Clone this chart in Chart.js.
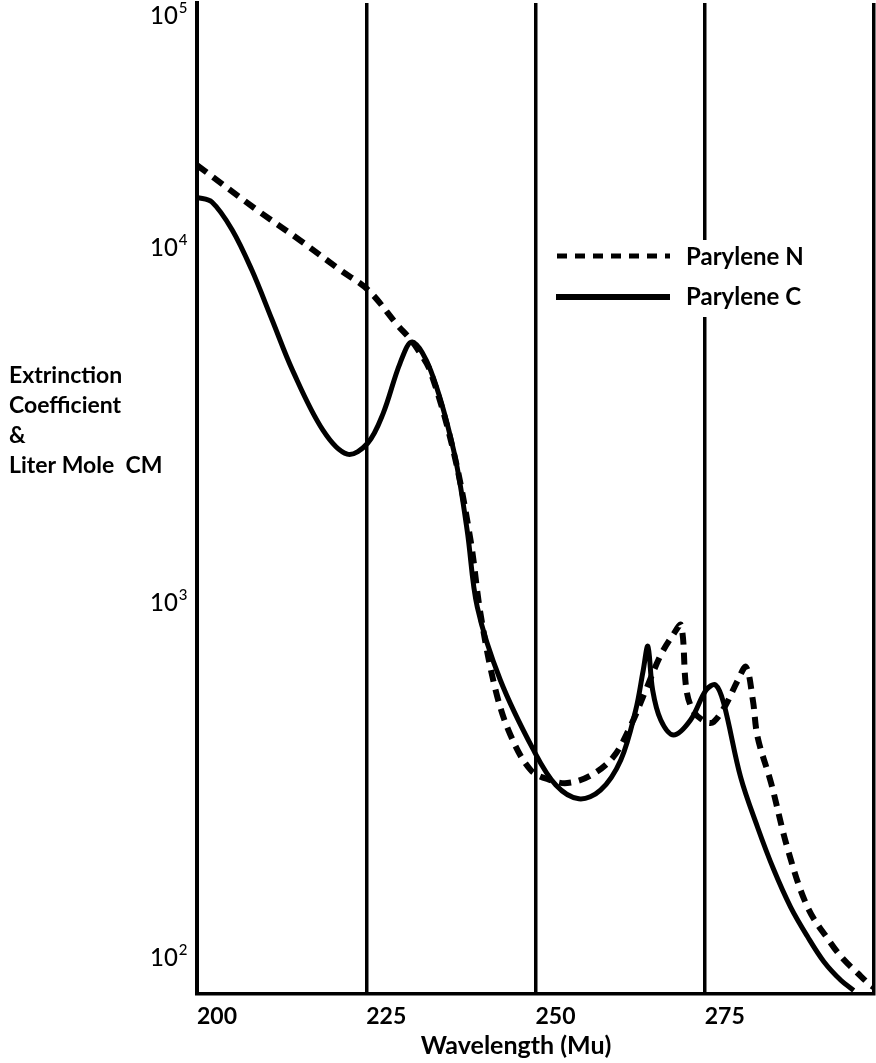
<!DOCTYPE html>
<html>
<head>
<meta charset="utf-8">
<title>Parylene extinction coefficient</title>
<script src="https://cdn.jsdelivr.net/npm/chart.js@4/dist/chart.umd.min.js"></script>
<style>
  html, body { margin: 0; padding: 0; background: #fff; }
  #wrap { width: 876px; height: 1063px; position: relative; }
</style>
</head>
<body>
<div id="wrap"><canvas id="specChart"></canvas></div>
<script>
// wavelength (nm) / extinction values
var nmN  = [200, 208.9, 215.2, 221.2, 225.3, 229.6, 231.5, 232.6, 234.5, 237.9, 240.4, 241.9, 244.1, 246.3, 249.3, 252.2, 254.7, 258.1, 261.5, 264.1, 266.3, 268.5, 270.3, 271.5, 272.3, 273.4, 275.2, 276.3, 278.1, 279.9, 281.1, 282.1, 282.8, 284.8, 287.3, 290.2, 293.6, 295.6, 297.6, 299.1, 300];
var valN = [17000, 12700, 10450, 8600, 7560, 6030, 5500, 5150, 4450, 2650, 1495, 920, 565, 422, 336, 315, 309, 324, 366, 450, 565, 709, 807, 860, 565, 490, 459, 459, 513, 603, 656, 530, 417, 309, 200, 138, 109.5, 98, 90, 84.5, 82];

var nmC  = [200, 202.2, 205.2, 208.1, 211.1, 214.1, 218.6, 222.2, 225.2, 227.5, 230.0, 231.8, 234.5, 237.9, 239.9, 241.4, 244.8, 249.7, 253.0, 256.4, 259.6, 262.6, 264.8, 265.9, 266.6, 267.3, 268.5, 270.4, 272.9, 275.2, 276.6, 277.8, 280.3, 282.8, 285.2, 287.7, 290.2, 292.6, 295.1, 297.0];
var valC = [13800, 13390, 11170, 8610, 6230, 4500, 3050, 2610, 2800, 3400, 4710, 5400, 4500, 2680, 1595, 968, 603, 383, 305, 279, 295, 359, 496, 640, 750, 565, 465, 422, 465, 565, 584, 519, 321, 232, 176, 138, 114, 97, 86, 80.5];

var xTicks = [200, 225, 250, 275, 300];
var yTickVals = [100, 1000, 10000, 45000];
var yTickBase = ['10', '10', '10', '10'];
var yTickExp = ['2', '3', '4', '5'];

var seriesNames = ['Parylene N', 'Parylene C'];
var yTitleLines = ['Extrinction', 'Coefficient', '&', 'Liter Mole  CM'];
var xTitle = 'Wavelength (Mu)';

function toPoints(xs, ys) {
  var pts = [];
  for (var i = 0; i < xs.length; i++) pts.push({ x: xs[i], y: ys[i] });
  return pts;
}

var FONT = 'Lato, "Noto Sans", sans-serif';

var extraText = {
  id: 'extraText',
  afterDatasetsDraw: function (chart) {
    var ctx = chart.ctx;
    var yScale = chart.scales.y;
    ctx.save();
    // legend box (covers the grid line behind it)
    ctx.fillStyle = '#fff';
    ctx.fillRect(550, 240, 280, 77);
    ctx.strokeStyle = '#000';
    ctx.lineWidth = 5;
    ctx.setLineDash([10, 8]);
    ctx.beginPath();
    ctx.moveTo(557, 256);
    ctx.lineTo(670, 256);
    ctx.stroke();
    ctx.setLineDash([]);
    ctx.lineWidth = 6;
    ctx.beginPath();
    ctx.moveTo(556, 297);
    ctx.lineTo(670, 297);
    ctx.stroke();
    ctx.fillStyle = '#000';
    ctx.font = 'bold 24px ' + FONT;
    ctx.textAlign = 'left';
    ctx.textBaseline = 'middle';
    ctx.fillText(seriesNames[0], 686, 257);
    ctx.fillText(seriesNames[1], 686, 297);

    // y axis title, horizontal block
    ctx.font = 'bold 23px ' + FONT;
    for (var i = 0; i < yTitleLines.length; i++) {
      ctx.fillText(yTitleLines[i], 9, 376 + i * 30);
    }
    // x axis title
    ctx.font = 'bold 25px ' + FONT;
    ctx.textAlign = 'center';
    ctx.fillText(xTitle, 516, 1046);

    // y tick labels with superscript powers
    ctx.textAlign = 'left';
    ctx.textBaseline = 'middle';
    for (var k = 0; k < yTickVals.length; k++) {
      var py = yScale.getPixelForValue(yTickVals[k]);
      ctx.font = '500 24px ' + FONT;
      var w = ctx.measureText(yTickBase[k]).width;
      ctx.fillText(yTickBase[k], 150, py + 1);
      ctx.font = '500 15px ' + FONT;
      ctx.fillText(yTickExp[k], 150 + w + 1, py - 7);
    }
    ctx.restore();
  }
};

var ctx = document.getElementById('specChart').getContext('2d');
var myChart = new Chart(ctx, {
  type: 'line',
  data: {
    datasets: [{
      label: seriesNames[0],
      data: toPoints(nmN, valN),
      borderColor: '#000',
      borderWidth: 6,
      borderDash: [12, 8],
      pointRadius: 0,
      tension: 0.35,
      fill: false
    }, {
      label: seriesNames[1],
      data: toPoints(nmC, valC),
      borderColor: '#000',
      borderWidth: 5,
      pointRadius: 0,
      tension: 0.35,
      fill: false
    }]
  },
  options: {
    responsive: true,
    maintainAspectRatio: false,
    animation: false,
    layout: { padding: { left: 0, right: 2, top: 3, bottom: 0 } },
    plugins: {
      legend: { display: false },
      tooltip: { enabled: false }
    },
    scales: {
      x: {
        type: 'linear',
        min: 200,
        max: 300,
        afterBuildTicks: function (axis) {
          axis.ticks = xTicks.map(function (v) { return { value: v }; });
        },
        afterFit: function (axis) {
          axis.height = 69;
          axis.paddingLeft = 0;
          axis.paddingRight = 0;
        },
        grid: {
          color: '#000',
          lineWidth: 3.5,
          drawTicks: false
        },
        border: { display: true, color: '#000', width: 3.5 },
        ticks: {
          align: 'start',
          padding: 9,
          color: '#000',
          font: { family: FONT, size: 23, weight: 'bold' },
          callback: function (v) { return v === 300 ? '' : String(v); }
        }
      },
      y: {
        type: 'logarithmic',
        min: 78.65,
        max: 48680,
        afterBuildTicks: function (axis) {
          axis.ticks = yTickVals.map(function (v) { return { value: v }; });
        },
        afterFit: function (axis) {
          axis.width = 197;
          axis.paddingTop = 0;
          axis.paddingBottom = 0;
        },
        grid: { display: false, drawTicks: false },
        border: { display: true, color: '#000', width: 4 },
        ticks: { display: false }
      }
    }
  },
  plugins: [extraText]
});
</script>
</body>
</html>
